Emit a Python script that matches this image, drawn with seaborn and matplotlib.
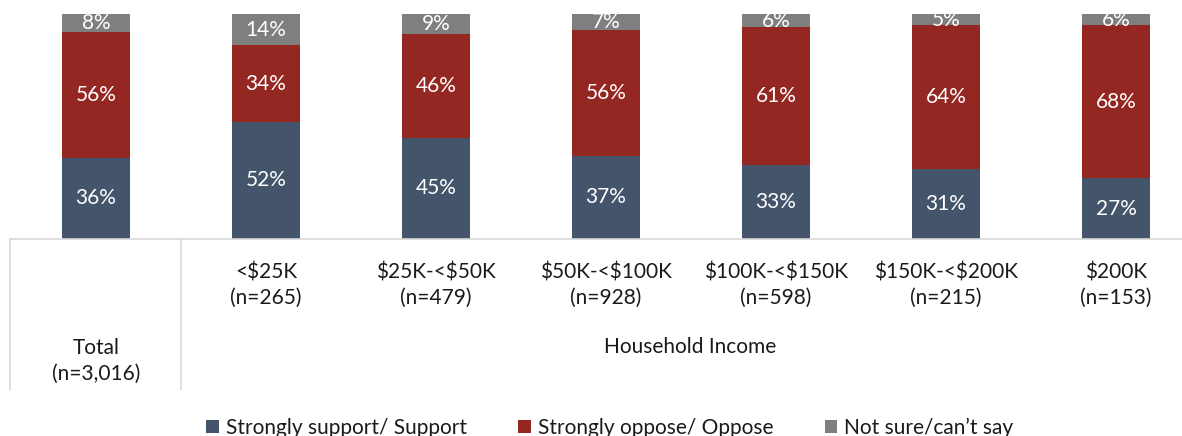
import matplotlib
matplotlib.use("Agg")
import matplotlib.pyplot as plt
import matplotlib.transforms as mtransforms
from matplotlib.patches import Patch
import seaborn as sns
import numpy as np

categories = ["Total\n(n=3,016)", "<$25K\n(n=265)", "$25K-<$50K\n(n=479)",
              "$50K-<$100K\n(n=928)", "$100K-<$150K\n(n=598)",
              "$150K-<$200K\n(n=215)", "$200K\n(n=153)"]
support = [36, 52, 45, 37, 33, 31, 27]
oppose = [56, 34, 46, 56, 61, 64, 68]
not_sure = [8, 14, 9, 7, 6, 5, 6]
series_names = ["Strongly support/ Support", "Strongly oppose/ Oppose", "Not sure/can\u2019t say"]
group_label = "Household Income"

colors = ["#44546A", "#952722", "#7F7F7F"]
FONT = ["Lato", "DejaVu Sans"]
FS = 15

sns.set_theme(style="white")
plt.rcParams["font.family"] = FONT

def esc(s):
    return s.replace("$", r"\$")

W, H = 1182, 436
fig = plt.figure(figsize=(W / 100, H / 100), dpi=100)
ax = fig.add_axes([10 / W, (H - 239) / H, 1172 / W, 225 / H])

series = [support, oppose, not_sure]
bottom = np.zeros(len(categories))
xs = [esc(c) for c in categories]
for vals, col in zip(series, colors):
    sns.barplot(x=xs, y=vals, bottom=bottom, color=col, width=0.4,
                saturation=1, ax=ax, order=xs, linewidth=0, edgecolor="none")
    ax.bar_label(ax.containers[-1], labels=[f"{v}%" for v in vals],
                 label_type="center", color="white", fontsize=FS)
    bottom = bottom + np.array(vals)

ax.set_xlim(-0.506, 6.388)
ax.set_ylim(0, 100)
ax.set_yticks([])
ax.set_ylabel("")
for s in ["top", "right", "left"]:
    ax.spines[s].set_visible(False)
ax.spines["bottom"].set_color("#d9d9d9")
ax.spines["bottom"].set_linewidth(1.2)

ax.set_xticks(range(1, len(categories)))
ax.set_xticklabels([esc(c) for c in categories[1:]], fontsize=FS,
                   color="#1a1a1a", linespacing=1.3)
ax.tick_params(axis="x", length=0, pad=17)

trans = mtransforms.blended_transform_factory(ax.transData, ax.transAxes)
for xv in [-0.506, 0.5]:
    ax.plot([xv, xv], [0, -0.671], transform=trans, clip_on=False,
            color="#d9d9d9", lw=1.2)

ax.text(0, -0.542, esc(categories[0]), transform=trans, ha="center", va="center",
        fontsize=FS, color="#1a1a1a", linespacing=1.4)
ax.text(3.494, -0.48, group_label, transform=trans, ha="center", va="center",
        fontsize=FS, color="#1a1a1a")

handles = [Patch(facecolor=c, edgecolor="none") for c in colors]
fig.legend(handles, series_names, loc="center", bbox_to_anchor=(610 / W, 1 - 428 / H),
           ncol=3, frameon=False, handlelength=0.6, handleheight=0.6,
           handletextpad=0.35, columnspacing=2.45, fontsize=FS,
           labelcolor="#1a1a1a")

fig.savefig("out.png", dpi=100)
